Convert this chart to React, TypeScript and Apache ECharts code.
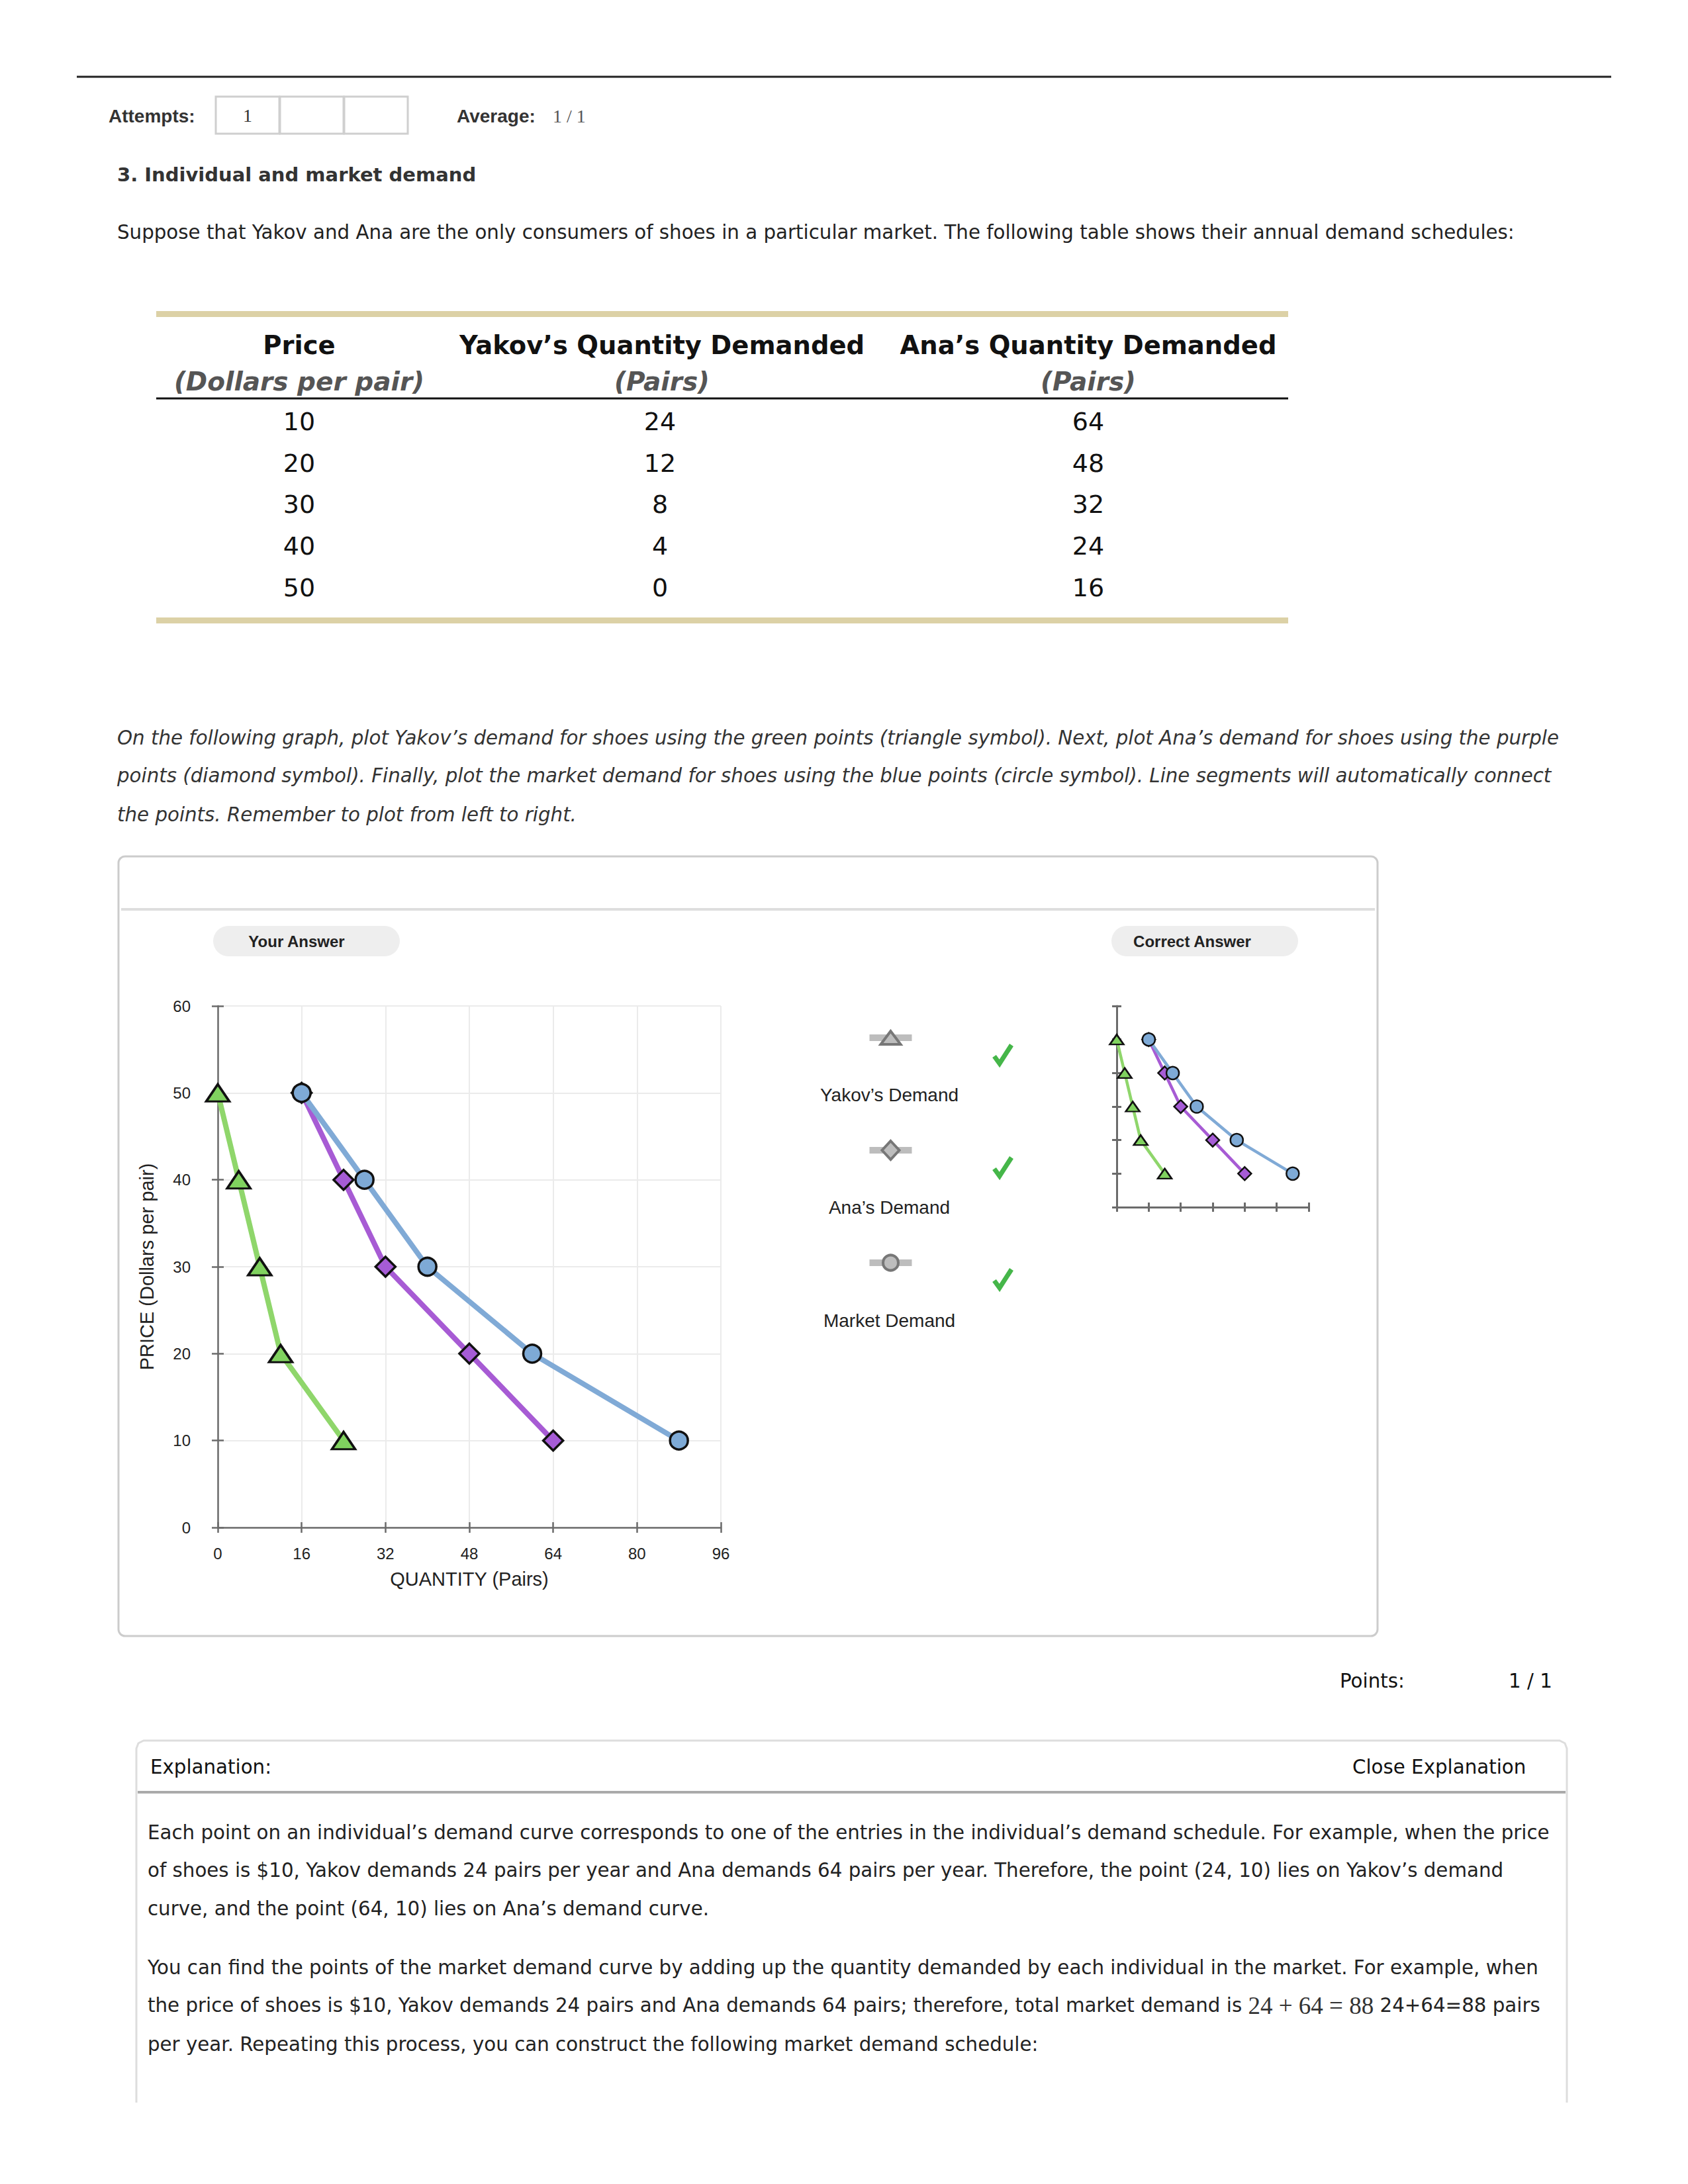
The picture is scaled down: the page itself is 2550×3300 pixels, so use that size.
import React, { useEffect, useRef } from "react";
import * as echarts from "echarts";

// ---------- data ----------
const prices = [10, 20, 30, 40, 50];
const yakovQty = [24, 12, 8, 4, 0];
const anaQty = [64, 48, 32, 24, 16];
const marketQty = [88, 60, 40, 28, 16];
const qtyMin = 0;
const qtyMax = 96;
const qtyStep = 16;
const priceMin = 0;
const priceMax = 60;
const priceStep = 10;
const legendNames = ["Yakov\u2019s Demand", "Ana\u2019s Demand", "Market Demand"];

const introText =
  "Suppose that Yakov and Ana are the only consumers of shoes in a particular market. The following table shows their annual demand schedules:";
const instructionLines = [
  "On the following graph, plot Yakov\u2019s demand for shoes using the green points (triangle symbol). Next, plot Ana\u2019s demand for shoes using the purple",
  "points (diamond symbol). Finally, plot the market demand for shoes using the blue points (circle symbol). Line segments will automatically connect",
  "the points. Remember to plot from left to right.",
];
const explanationLines = [
  "Each point on an individual\u2019s demand curve corresponds to one of the entries in the individual\u2019s demand schedule. For example, when the price",
  "of shoes is $10, Yakov demands 24 pairs per year and Ana demands 64 pairs per year. Therefore, the point (24, 10) lies on Yakov\u2019s demand",
  "curve, and the point (64, 10) lies on Ana\u2019s demand curve.",
  "You can find the points of the market demand curve by adding up the quantity demanded by each individual in the market. For example, when",
  "PLACEHOLDER",
  "per year. Repeating this process, you can construct the following market demand schedule:",
];

// ---------- styles ----------
const SANS = "'Liberation Sans', Arial, sans-serif";
const VERD = "'DejaVu Sans', Verdana, sans-serif";
const SERIF = "'Liberation Serif', 'Times New Roman', serif";
const GREEN_LINE = "#8fd66b";
const GREEN_FILL = "#80d25f";
const PURPLE_LINE = "#a75bd4";
const PURPLE_FILL = "#a65cd6";
const BLUE_LINE = "#80aad6";
const BLUE_FILL = "#7eaad6";
const AXIS = "#6b6b6b";
const BODY = 29.3;

const toPts = (q: number[]) =>
  q.map((v, i) => [v, prices[i]]).sort((a, b) => a[0] - b[0]);

function txt(x: number, y: number, text: string, opts: any = {}) {
  return {
    type: "text",
    x,
    y,
    z: 10,
    style: {
      text,
      fill: opts.fill || "#222",
      fontSize: opts.size || BODY,
      fontFamily: opts.family || VERD,
      fontWeight: opts.weight || "normal",
      fontStyle: opts.style || "normal",
      align: opts.align || "left",
      verticalAlign: "middle",
      rich: opts.rich,
    },
  };
}

function buildOption() {
  const yak = toPts(yakovQty);
  const ana = toPts(anaQty);
  const mkt = toPts(marketQty);

  const g: any[] = [];
  // header
  g.push({ type: "line", shape: { x1: 116, y1: 116, x2: 2434, y2: 116 }, style: { stroke: "#222", lineWidth: 3 } });
  g.push(txt(164, 175, "Attempts:", { family: SANS, weight: "bold", size: 28, fill: "#333" }));
  [326, 423, 520].forEach((x) =>
    g.push({ type: "rect", shape: { x, y: 146, width: 96, height: 56 }, style: { fill: "#fff", stroke: "#cfcfcf", lineWidth: 3 } })
  );
  g.push(txt(374, 174, "1", { family: SERIF, size: 28, align: "center", fill: "#333" }));
  g.push(txt(690, 175, "Average:", { family: SANS, weight: "bold", size: 28, fill: "#333" }));
  g.push(txt(835, 175, "1 / 1", { family: SERIF, size: 28, fill: "#555" }));
  g.push(txt(177, 264, "3. Individual and market demand", { weight: "bold", size: 29, fill: "#333" }));
  g.push(txt(177, 351, introText, { size: BODY, fill: "#222" }));

  // table
  const colX = [452, 1000, 1644];
  g.push({ type: "rect", shape: { x: 236, y: 470, width: 1710, height: 9 }, style: { fill: "#dcd1a6" } });
  ["Price", "Yakov\u2019s Quantity Demanded", "Ana\u2019s Quantity Demanded"].forEach((t, i) =>
    g.push(txt(colX[i], 521, t, { weight: "bold", size: 38.5, align: "center", fill: "#111" }))
  );
  ["(Dollars per pair)", "(Pairs)", "(Pairs)"].forEach((t, i) =>
    g.push(txt(colX[i], 576, t, { weight: "bold", style: "italic", size: 39, align: "center", fill: "#555" }))
  );
  g.push({ type: "line", shape: { x1: 236, y1: 602, x2: 1946, y2: 602 }, style: { stroke: "#111", lineWidth: 3 } });
  const rowY = [637, 700, 762, 825, 888];
  prices.forEach((p, i) => {
    g.push(txt(colX[0], rowY[i], String(p), { size: 38, align: "center", fill: "#111" }));
    g.push(txt(colX[1] - 3, rowY[i], String(yakovQty[i]), { size: 38, align: "center", fill: "#111" }));
    g.push(txt(colX[2], rowY[i], String(anaQty[i]), { size: 38, align: "center", fill: "#111" }));
  });
  g.push({ type: "rect", shape: { x: 236, y: 933, width: 1710, height: 9 }, style: { fill: "#dcd1a6" } });

  // instructions
  [1115, 1172, 1231].forEach((y, i) =>
    g.push(txt(177, y, instructionLines[i], { style: "italic", size: BODY, fill: "#333" }))
  );

  // panel
  g.push({ type: "rect", z: 0, shape: { x: 179, y: 1294, width: 1902, height: 1178, r: 10 }, style: { fill: "none", stroke: "#cccccc", lineWidth: 3 } });
  g.push({ type: "line", shape: { x1: 183, y1: 1374, x2: 2077, y2: 1374 }, style: { stroke: "#dedede", lineWidth: 4 } });
  g.push({ type: "rect", z: 0, shape: { x: 322, y: 1399, width: 282, height: 46, r: 23 }, style: { fill: "#eeeeee" } });
  g.push(txt(448, 1422, "Your Answer", { family: SANS, weight: "bold", size: 24, align: "center", fill: "#222" }));
  g.push({ type: "rect", z: 0, shape: { x: 1679, y: 1399, width: 282, height: 46, r: 23 }, style: { fill: "#eeeeee" } });
  g.push(txt(1801, 1422, "Correct Answer", { family: SANS, weight: "bold", size: 24, align: "center", fill: "#222" }));

  // legend
  const lx = 1345.5;
  const iconY = [1568, 1738, 1908];
  const textY = [1654, 1824, 1995];
  const checkY = [1594, 1764, 1933];
  iconY.forEach((cy, i) => {
    g.push({ type: "rect", shape: { x: lx - 32, y: cy - 5, width: 64, height: 10 }, style: { fill: "#bdbdbd" } });
    if (i === 0) {
      g.push({ type: "polygon", shape: { points: [[lx, cy - 10], [lx - 15, cy + 10], [lx + 15, cy + 10]] }, style: { fill: "#bdbdbd", stroke: "#777", lineWidth: 4 } });
    } else if (i === 1) {
      g.push({ type: "polygon", shape: { points: [[lx, cy - 14], [lx + 13, cy], [lx, cy + 14], [lx - 13, cy]] }, style: { fill: "#bdbdbd", stroke: "#777", lineWidth: 4 } });
    } else {
      g.push({ type: "circle", shape: { cx: lx, cy, r: 11.5 }, style: { fill: "#bdbdbd", stroke: "#777", lineWidth: 4 } });
    }
    g.push(txt(lx - 2, textY[i], legendNames[i], { family: SANS, size: 28, align: "center", fill: "#222" }));
    const cx = 1515;
    const c = checkY[i];
    g.push({ type: "polyline", shape: { points: [[cx - 13, c + 2], [cx - 5, c + 13], [cx + 13, c - 15]] }, style: { stroke: "#45b649", lineWidth: 7, fill: null } });
  });

  // points
  g.push(txt(2024, 2540, "Points:", { size: BODY, fill: "#111" }));
  g.push(txt(2279, 2540, "1 / 1", { size: BODY, fill: "#111" }));

  // explanation box
  g.push({
    type: "polyline",
    shape: { points: [[206, 3177], [206, 2642], [209, 2634], [217, 2630], [2356, 2630], [2364, 2634], [2367, 2642], [2367, 3177]] },
    style: { stroke: "#dddddd", lineWidth: 3, fill: null },
  });
  g.push({ type: "line", shape: { x1: 208, y1: 2708, x2: 2365, y2: 2708 }, style: { stroke: "#aaaaaa", lineWidth: 4 } });
  g.push(txt(227, 2670, "Explanation:", { size: BODY, fill: "#111" }));
  g.push(txt(2043, 2670, "Close Explanation", { size: BODY, fill: "#111" }));
  const expY = [2769, 2826, 2884, 2973, 3030, 3089];
  expY.forEach((y, i) => {
    if (i === 4) {
      g.push(
        txt(223, y, "{a|the price of shoes is $10, Yakov demands 24 pairs and Ana demands 64 pairs; therefore, total market demand is }{m|24 + 64 = 88}{a| 24+64=88 pairs}", {
          rich: {
            a: { fontFamily: VERD, fontSize: BODY, fill: "#222" },
            m: { fontFamily: SERIF, fontSize: 37, fill: "#333" },
          },
        })
      );
    } else {
      g.push(txt(223, y, explanationLines[i], { size: BODY, fill: "#222" }));
    }
  });

  const mainAxisLine = { lineStyle: { color: AXIS, width: 2.5 } };
  const xAxes: any[] = [
    {
      type: "value", gridIndex: 0, position: "bottom", min: qtyMin, max: qtyMax, interval: qtyStep,
      axisLine: mainAxisLine, axisTick: { show: true, length: 8, lineStyle: { color: AXIS, width: 2.5 } },
      axisLabel: { fontSize: 24, fontFamily: SANS, color: "#222", margin: 27 },
      splitLine: { show: true, lineStyle: { color: "#ebebeb", width: 2 } },
      name: "QUANTITY (Pairs)", nameLocation: "middle", nameGap: 63,
      nameTextStyle: { fontSize: 29, fontFamily: SANS, color: "#222" },
    },
    {
      type: "value", gridIndex: 0, position: "bottom", min: qtyMin, max: qtyMax, interval: qtyStep,
      axisLine: { show: false }, axisTick: { show: true, inside: true, length: 8, lineStyle: { color: AXIS, width: 2.5 } },
      axisLabel: { show: false }, splitLine: { show: false },
    },
    {
      type: "value", gridIndex: 1, position: "bottom", min: qtyMin, max: qtyMax, interval: qtyStep,
      axisLine: { lineStyle: { color: AXIS, width: 3 } }, axisTick: { show: true, length: 7, lineStyle: { color: AXIS, width: 3 } },
      axisLabel: { show: false }, splitLine: { show: false },
    },
    {
      type: "value", gridIndex: 1, position: "bottom", min: qtyMin, max: qtyMax, interval: qtyStep,
      axisLine: { show: false }, axisTick: { show: true, inside: true, length: 7, lineStyle: { color: AXIS, width: 3 } },
      axisLabel: { show: false }, splitLine: { show: false },
    },
  ];
  const yAxes: any[] = [
    {
      type: "value", gridIndex: 0, position: "left", min: priceMin, max: priceMax, interval: priceStep,
      axisLine: { show: true, ...mainAxisLine }, axisTick: { show: true, length: 9, lineStyle: { color: AXIS, width: 2.5 } },
      axisLabel: { fontSize: 24, fontFamily: SANS, color: "#222", margin: 41 },
      splitLine: { show: true, lineStyle: { color: "#ebebeb", width: 2 } },
      name: "PRICE (Dollars per pair)", nameLocation: "middle", nameGap: 93,
      nameTextStyle: { fontSize: 29, fontFamily: SANS, color: "#222" },
    },
    {
      type: "value", gridIndex: 0, position: "left", min: priceMin, max: priceMax, interval: priceStep,
      axisLine: { show: false }, axisTick: { show: true, inside: true, length: 9, lineStyle: { color: AXIS, width: 2.5 } },
      axisLabel: { show: false }, splitLine: { show: false },
    },
    {
      type: "value", gridIndex: 1, position: "left", min: priceMin, max: priceMax, interval: priceStep,
      axisLine: { show: true, lineStyle: { color: AXIS, width: 3 } }, axisTick: { show: true, length: 7, lineStyle: { color: AXIS, width: 3 } },
      axisLabel: { show: false }, splitLine: { show: false },
    },
    {
      type: "value", gridIndex: 1, position: "left", min: priceMin, max: priceMax, interval: priceStep,
      axisLine: { show: false }, axisTick: { show: true, inside: true, length: 7, lineStyle: { color: AXIS, width: 3 } },
      axisLabel: { show: false }, splitLine: { show: false },
    },
  ];

  const mk = (data: number[][], lineColor: string, fill: string, symbol: string, size: any, lw: number, bw: number, xi: number, yi: number, z: number) => ({
    type: "line",
    xAxisIndex: xi,
    yAxisIndex: yi,
    data,
    z,
    symbol,
    symbolSize: size,
    showSymbol: true,
    lineStyle: { color: lineColor, width: lw },
    itemStyle: { color: fill, borderColor: "#111", borderWidth: bw },
    silent: true,
  });

  const series = [
    mk(yak, GREEN_LINE, GREEN_FILL, "triangle", [35, 26], 8, 3.5, 0, 0, 3),
    mk(ana, PURPLE_LINE, PURPLE_FILL, "diamond", 30, 8, 3.5, 0, 0, 4),
    mk(mkt, BLUE_LINE, BLUE_FILL, "circle", 27, 8, 3.5, 0, 0, 5),
    mk(yak, GREEN_LINE, GREEN_FILL, "triangle", [21, 15], 4.5, 2.5, 2, 2, 3),
    mk(ana, PURPLE_LINE, PURPLE_FILL, "diamond", 20, 4.5, 2.5, 2, 2, 4),
    mk(mkt, BLUE_LINE, BLUE_FILL, "circle", 19, 4.5, 2.5, 2, 2, 5),
  ];

  return {
    animation: false,
    backgroundColor: "#ffffff",
    grid: [
      { left: 329, top: 1520, width: 760, height: 788, containLabel: false },
      { left: 1687, top: 1520, width: 290, height: 304, containLabel: false },
    ],
    xAxis: xAxes,
    yAxis: yAxes,
    series,
    graphic: { elements: g },
  };
}

export default function App() {
  const ref = useRef<HTMLDivElement>(null);
  useEffect(() => {
    if (!ref.current) return;
    const chart = echarts.init(ref.current, undefined, { renderer: "svg" });
    chart.setOption(buildOption() as any);
    return () => chart.dispose();
  }, []);
  return (
    <div
      ref={ref}
      style={{ position: "absolute", left: 0, top: 0, width: 2550, height: 3300, background: "#fff" }}
    />
  );
}
